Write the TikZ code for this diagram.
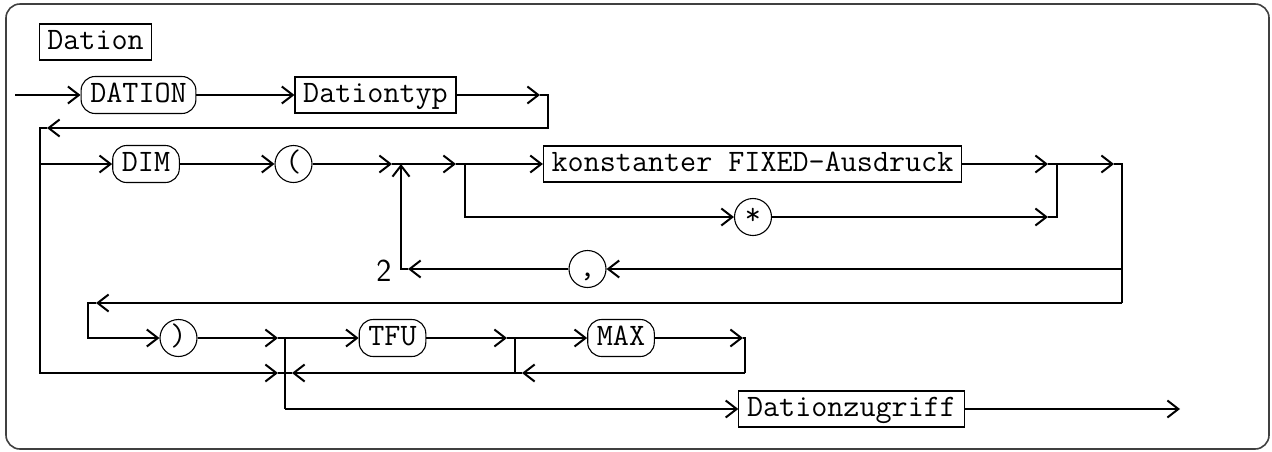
\documentclass[tikz,border=0pt]{standalone}
\usetikzlibrary{arrows.meta}
\begin{document}
\begin{tikzpicture}[x=0.5pt,y=-0.5pt,
  line width=1pt,
  >={Straight Barb[length=5.5pt,width=8.5pt]},
  lbl/.style={font=\fontsize{15.6}{18}\selectfont\ttfamily, text height=11pt, text depth=3.5pt},
  nonterm/.style={lbl, draw, line width=0.55pt, inner xsep=4.1pt, inner ysep=1.75pt},
  term/.style={lbl, draw, line width=0.55pt, rounded corners=7pt, inner xsep=4.6pt, inner ysep=2pt},
  single/.style={lbl, draw, line width=0.55pt, circle, minimum size=18.5pt, inner sep=0pt},
  numlbl/.style={font=\fontsize{16}{18}\selectfont\sffamily, inner sep=0pt},
  frame/.style={line width=0.8pt, black!75, rounded corners=7pt}
]
\useasboundingbox (0,0) rectangle (1272,451);
\draw[frame] (6,4) rectangle (1269,449);

% nodes
\node[nonterm] (title) at (95.5,42) {Dation};
\node[term] (dation) at (138.5,95) {DATION};
\node[nonterm] (dtyp) at (375.5,95) {Dationtyp};
\node[term] (dim) at (146,164) {DIM};
\node[single] (lp) at (293.5,164) {(};
\node[nonterm] (konst) at (752.5,164) {konstanter FIXED-Ausdruck};
\node[single] (star) at (753,217) {*};
\node[single] (comma) at (587.5,269) {,};
\node[numlbl] (two) at (384,271) {2};
\node[single] (rp) at (178.5,338) {)};
\node[term] (tfu) at (392.5,338) {TFU};
\node[term] (max) at (621,338) {MAX};
\node[nonterm] (zug) at (851.5,409) {Dationzugriff};

% coordinates
\coordinate (s0) at (15,95);
\coordinate (a1) at (540,95);
\coordinate (c1) at (548,95);
\coordinate (c2) at (548,128);
\coordinate (a2) at (47,128);
\coordinate (c3) at (40,128);
\coordinate (r2) at (40,164);
\coordinate (a3) at (392,164);
\coordinate (j1) at (401,164);
\coordinate (a4) at (456,164);
\coordinate (j2) at (465,164);
\coordinate (a5) at (1048,164);
\coordinate (j3) at (1057,164);
\coordinate (a6) at (1114,164);
\coordinate (c4) at (1122,164);
\coordinate (c5) at (465,217);
\coordinate (a7) at (1048,217);
\coordinate (c6) at (1057,217);
\coordinate (j4) at (1122,269);
\coordinate (a8) at (408,269);
\coordinate (c7) at (401,269);
\coordinate (c8) at (1122,303);
\coordinate (a9) at (96,303);
\coordinate (c9) at (88,303);
\coordinate (c10) at (88,338);
\coordinate (a10) at (278,338);
\coordinate (j5) at (285,338);
\coordinate (a11) at (507,338);
\coordinate (j6) at (515,338);
\coordinate (a12) at (743,338);
\coordinate (c11) at (745,338);
\coordinate (c12) at (745,373);
\coordinate (a13) at (522,373);
\coordinate (j7) at (515,373);
\coordinate (a14) at (292,373);
\coordinate (j8) at (285,373);
\coordinate (c13) at (40,373);
\coordinate (a15) at (278,373);
\coordinate (c14) at (285,409);
\coordinate (e) at (1180,409);

% row 1
\draw[->] (s0) -- (dation.west);
\draw[->] (dation.east) -- (dtyp.west);
\draw[->] (dtyp.east) -- (a1);
\draw[->] (a1) -- (c1) -- (c2) -- (a2);
\draw[->] (a2) -- (c3) -- (c13) -- (a15);
\draw (a15) -- (j8);

% row 2
\draw[->] (r2) -- (dim.west);
\draw[->] (dim.east) -- (lp.west);
\draw[->] (lp.east) -- (a3);
\draw[->] (a3) -- (j1) -- (a4);
\draw[->] (a4) -- (j2) -- (konst.west);
\draw[->] (konst.east) -- (a5);
\draw[->] (a5) -- (j3) -- (a6);
\draw (a6) -- (c4) -- (c8);
\draw[->] (j2) -- (c5) -- (star.west);
\draw[->] (star.east) -- (a7);
\draw (a7) -- (c6) -- (j3);

% comma loop
\draw[->] (j4) -- (comma.east);
\draw[->] (comma.west) -- (a8);
\draw[->] (a8) -- (c7) -- (j1);

% row 4
\draw[->] (c8) -- (a9);
\draw[->] (a9) -- (c9) -- (c10) -- (rp.west);
\draw[->] (rp.east) -- (a10);
\draw[->] (a10) -- (j5) -- (tfu.west);
\draw[->] (tfu.east) -- (a11);
\draw[->] (a11) -- (j6) -- (max.west);
\draw[->] (max.east) -- (a12);
\draw (a12) -- (c11) -- (c12);
\draw[->] (c12) -- (a13);
\draw[->] (a13) -- (j7) -- (a14);
\draw (a14) -- (j8);
\draw (j6) -- (j7);
\draw (j5) -- (c14);
\draw[->] (c14) -- (zug.west);
\draw[->] (zug.east) -- (e);
\end{tikzpicture}
\end{document}
